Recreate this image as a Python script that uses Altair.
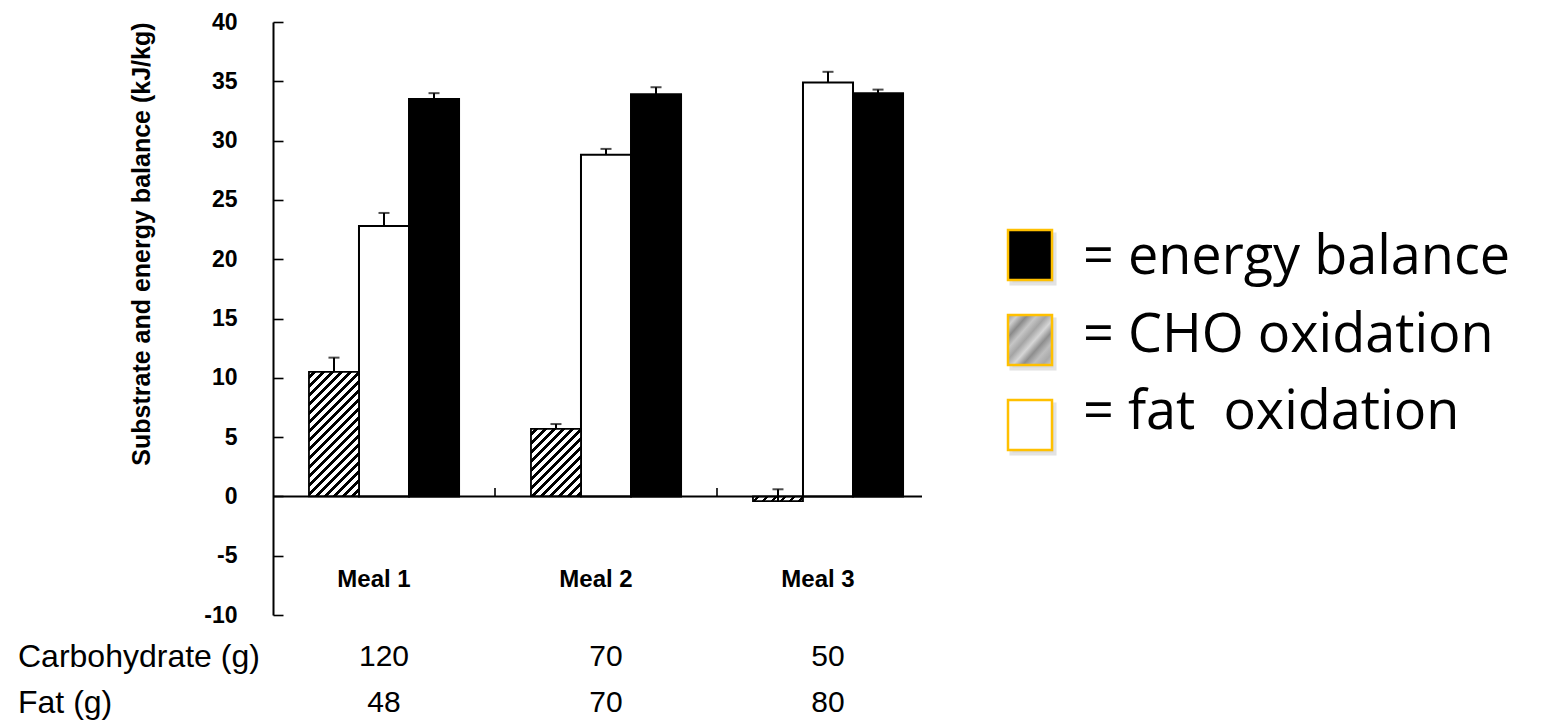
import altair as alt
import pandas as pd

# ---------------- data ----------------
meals = ["Meal 1", "Meal 2", "Meal 3"]
series = ["CHO oxidation", "fat oxidation", "energy balance"]
cho_values = [10.5, 5.7, -0.4]
cho_sem = [1.2, 0.4, 1.0]
fat_values = [22.8, 28.8, 34.9]
fat_sem = [1.1, 0.5, 0.9]
energy_values = [33.5, 33.9, 34.0]
energy_sem = [0.5, 0.6, 0.3]
carbohydrate_g = ["120", "70", "50"]
fat_g = ["48", "70", "80"]
table_rows = ["Carbohydrate (g)", "Fat (g)"]
legend_keys = ["energy balance", "CHO oxidation", "fat oxidation"]
legend_labels = ["= energy balance", "= CHO oxidation", "= fat\u00a0 oxidation"]
y_ticks = [-10, -5, 0, 5, 10, 15, 20, 25, 30, 35, 40]

# ---------------- layout / style ----------------
W, H = 666, 593
Y_MIN, Y_MAX = -10, 40
PAD_INNER, PAD_OUTER = 0.324, 0.162
STEP = W / 3.0
BAR_W = STEP * (1 - PAD_INNER) / 3.0
PX_PER_UNIT = H / (Y_MAX - Y_MIN)
BOLD = "Liberation Sans"
ORANGE = "#FFC000"
TABLE_FS = 30
ROW1_Y, ROW2_Y = 635, 681

rows = []
for i, m in enumerate(meals):
    for s, vals, sems in zip(series, [cho_values, fat_values, energy_values],
                             [cho_sem, fat_sem, energy_sem]):
        rows.append({"meal": m, "series": s, "value": vals[i], "sem": sems[i]})
df = pd.DataFrame(rows)
table_df = pd.DataFrame({"meal": meals, "carb": carbohydrate_g, "fat": fat_g})
legend_df = pd.DataFrame({"key": legend_keys, "label": legend_labels})


def hatch_gradient(value, period=9.0, ink=3.2):
    w = BAR_W
    h = max(abs(value) * PX_PER_UNIT, 1.0)
    total = w + h
    stops = []
    c = period * 0.45
    while c < total:
        a = c / total
        b = min((c + ink) / total, 1.0)
        stops += [alt.GradientStop(color="white", offset=a),
                  alt.GradientStop(color="black", offset=a),
                  alt.GradientStop(color="black", offset=b),
                  alt.GradientStop(color="white", offset=b)]
        c += period
    k = total / (w * w + h * h)
    return alt.LinearGradient(gradient="linear", stops=stops,
                              x1=0, y1=0, x2=w * k, y2=h * k)


gray_stops = ["#9a9a9a", "#cfcfcf", "#8a8a8a", "#c6c6c6", "#a4a4a4",
              "#d6d6d6", "#8e8e8e", "#bebebe", "#a9a9a9", "#cccccc"]
gray_texture = alt.LinearGradient(
    gradient="linear",
    stops=[alt.GradientStop(color=c, offset=i / (len(gray_stops) - 1))
           for i, c in enumerate(gray_stops)],
    x1=0, y1=0, x2=1, y2=1)

y_scale = alt.Scale(domain=[Y_MIN, Y_MAX], nice=False, zero=False)

x_axis = alt.Axis(orient="bottom", offset=-50, domain=False, ticks=False,
                  tickSize=0, labelPadding=2, labelFont=BOLD,
                  labelFontWeight="bold", labelFontSize=24, labelColor="black",
                  labelAngle=0, labelBaseline="top", labelOffset=-10,
                  title=None, grid=False)
x_scale = alt.Scale(domain=meals, paddingInner=PAD_INNER, paddingOuter=PAD_OUTER)
x_enc = alt.X("meal:N", scale=x_scale, axis=x_axis)
xoff_enc = alt.XOffset("series:N",
                       scale=alt.Scale(domain=series, paddingInner=0, paddingOuter=0))

left_axis = alt.Axis(orient="left", values=y_ticks, ticks=False, tickSize=0,
                     domain=False, grid=False, labelPadding=36, labelFont=BOLD,
                     labelFontWeight="bold", labelFontSize=23, labelColor="black",
                     labelExpr="datum.value + ''",
                     title="Substrate and energy balance (kJ/kg)",
                     titleFont=BOLD, titleFontWeight="bold", titleFontSize=25,
                     titleColor="black", titleAngle=270, titleX=-132, titleY=0,
                     titleAlign="right", titleBaseline="middle")
right_axis = alt.Axis(orient="right", offset=-W, values=y_ticks, labels=False,
                      ticks=True, tickSize=10, tickWidth=1.6, tickColor="black",
                      domain=True, domainColor="black", domainWidth=2,
                      grid=False, title=None)

base = alt.Chart(df)

bars_bw = base.transform_filter(
    alt.datum.series != "CHO oxidation"
).mark_bar(stroke="black", strokeWidth=2).encode(
    x=x_enc, xOffset=xoff_enc,
    y=alt.Y("value:Q", scale=y_scale, axis=left_axis),
    fill=alt.Fill("series:N",
                  scale=alt.Scale(domain=["fat oxidation", "energy balance"],
                                  range=["white", "black"]),
                  legend=None),
)

hatched = []
for i, m in enumerate(meals):
    hatched.append(base.transform_filter(
        (alt.datum.series == "CHO oxidation") & (alt.datum.meal == m)
    ).mark_bar(fill=hatch_gradient(cho_values[i]), stroke="black",
               strokeWidth=1.8).encode(
        x=x_enc, xOffset=xoff_enc,
        y=alt.Y("value:Q", scale=y_scale, axis=None),
    ))

err_rule = base.transform_calculate(
    top="datum.value + datum.sem"
).mark_rule(color="black", strokeWidth=2).encode(
    x=x_enc, xOffset=xoff_enc,
    y=alt.Y("value:Q", scale=y_scale, axis=right_axis),
    y2="top:Q",
)

err_cap = base.transform_calculate(
    top="datum.value + datum.sem"
).mark_tick(orient="horizontal", size=11, thickness=2, color="black").encode(
    x=x_enc, xOffset=xoff_enc,
    y=alt.Y("top:Q", scale=y_scale, axis=None),
)

zero_line = alt.Chart(pd.DataFrame({"v": [0]})).mark_rule(
    color="black", strokeWidth=2
).encode(
    x=alt.value(0), x2=alt.value(649),
    y=alt.Y("v:Q", scale=y_scale, axis=None),
)

separators = alt.Chart(pd.DataFrame({"meal": meals[1:]})).mark_rule(
    color="black", strokeWidth=1.6, xOffset=-STEP * PAD_INNER / 2
).encode(
    x=alt.X("meal:N", scale=x_scale, axis=x_axis, bandPosition=0),
    y=alt.YDatum(0, scale=y_scale, axis=None),
    y2=alt.Y2Datum(0.7),
)

table_carb = alt.Chart(table_df).mark_text(
    font="Liberation Sans", fontSize=TABLE_FS, color="black", baseline="middle"
).encode(x=x_enc, y=alt.value(ROW1_Y), text="carb:N")
table_fat = alt.Chart(table_df).mark_text(
    font="Liberation Sans", fontSize=TABLE_FS, color="black", baseline="middle"
).encode(x=x_enc, y=alt.value(ROW2_Y), text="fat:N")
row_label_1 = alt.Chart(pd.DataFrame({"t": [table_rows[0]]})).mark_text(
    font="Liberation Sans", fontSize=TABLE_FS + 2, color="black", align="left",
    baseline="middle"
).encode(x=alt.value(-255), y=alt.value(ROW1_Y), text="t:N")
row_label_2 = alt.Chart(pd.DataFrame({"t": [table_rows[1]]})).mark_text(
    font="Liberation Sans", fontSize=TABLE_FS + 2, color="black", align="left",
    baseline="middle"
).encode(x=alt.value(-255), y=alt.value(ROW2_Y), text="t:N")

main = alt.layer(
    bars_bw, *hatched, err_rule, err_cap, zero_line, separators,
    table_carb, table_fat, row_label_1, row_label_2
).resolve_axis(y="independent")

# ---------------- legend ----------------
RECT = "M-0.88,-1L0.88,-1L0.88,1L-0.88,1Z"
sw_y = alt.Y("key:N", scale=alt.Scale(type="point", domain=legend_keys,
                                       range=[233, 403], padding=0), axis=None)
txt_y = alt.Y("key:N", scale=alt.Scale(type="point", domain=legend_keys,
                                        range=[236, 391], padding=0), axis=None)
leg = alt.Chart(legend_df)
shadow = leg.mark_point(shape=RECT, size=2500, filled=True, fill="#c8c8c8",
                        stroke="#d8d8d8", strokeWidth=3, opacity=0.7,
                        xOffset=3, yOffset=4).encode(x=alt.value(757), y=sw_y)
sw_bw = leg.transform_filter(alt.datum.key != "CHO oxidation").mark_point(
    shape=RECT, size=2500, filled=True, stroke=ORANGE, strokeWidth=2.5,
    opacity=1
).encode(
    x=alt.value(757), y=sw_y,
    fill=alt.Fill("key:N",
                  scale=alt.Scale(domain=["fat oxidation", "energy balance"],
                                  range=["white", "black"]),
                  legend=None),
)
sw_gray = leg.transform_filter(alt.datum.key == "CHO oxidation").mark_point(
    shape=RECT, size=2500, filled=True, fill=gray_texture, stroke=ORANGE,
    strokeWidth=2.5, opacity=1
).encode(x=alt.value(757), y=sw_y)
leg_text = leg.mark_text(font="Open Sans", fontSize=54, color="black",
                         align="left", baseline="middle").encode(
    x=alt.value(810), y=txt_y, text="label:N")

legend = alt.layer(shadow, sw_bw, sw_gray, leg_text).resolve_scale(y="independent")

chart = alt.layer(main, legend).resolve_scale(y="independent").properties(
    width=W, height=H,
    padding={"left": 265, "top": 14, "right": 570, "bottom": 106},
    autosize=alt.AutoSizeParams(type="none"),
    background="white",
).configure_view(stroke=None)

chart.save("out.html", embed_options={"renderer": "svg", "actions": False})
